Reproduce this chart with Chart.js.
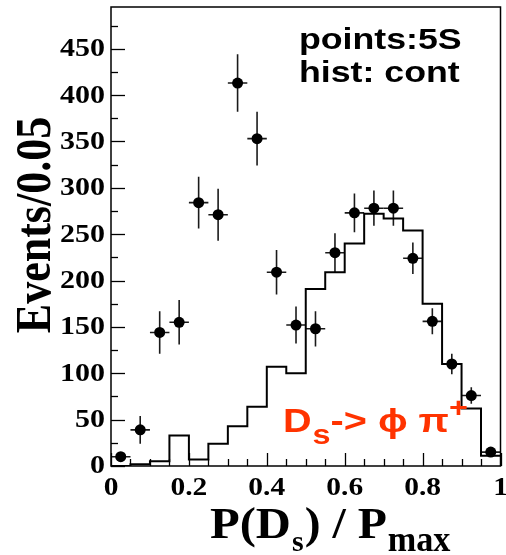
<!DOCTYPE html>
<html>
<head>
<meta charset="utf-8">
<script src="https://cdn.jsdelivr.net/npm/chart.js@4"></script>
<style>
  html, body { margin: 0; padding: 0; background: #fff; }
  canvas { display: block; }
</style>
</head>
<body>
<canvas id="chart" width="506" height="555"></canvas>
<script>
// Данные: точки (5S) с ошибками и гистограмма континуума
const binCenters = [0.025, 0.075, 0.125, 0.175, 0.225, 0.275, 0.325, 0.375, 0.425, 0.475,
                    0.525, 0.575, 0.625, 0.675, 0.725, 0.775, 0.825, 0.875, 0.925, 0.975];
const pointValues = [10, 39, 144, 155, 284, 271, 413, 353, 209, 152,
                     148, 230, 273, 278, 278, 224, 156, 110, 76, 15];
const pointErrors = [4, 15, 23, 24, 28, 28, 31, 29, 24, 20,
                     19, 21, 21, 19, 19, 17, 14, 11, 9, 4];
const halfBin = 0.025;

const binEdges = [0, 0.05, 0.1, 0.15, 0.2, 0.25, 0.3, 0.35, 0.4, 0.45,
                  0.5, 0.55, 0.6, 0.65, 0.7, 0.75, 0.8, 0.85, 0.9, 0.95, 1.0];
const histValues = [0, 2, 5, 33, 7, 24, 43, 64, 107, 100,
                    191, 209, 240, 272, 267, 254, 175, 110, 62, 11];

const yTickLabels = [0, 50, 100, 150, 200, 250, 300, 350, 400, 450];
const xTickLabels = [0, 0.2, 0.4, 0.6, 0.8, 1];
const yMinorStep = 25;
const xMinorStep = 0.05;

const RED = "#ff3300";

// рисуем текст с горизонтальным растяжением (картинка-оригинал растянута)
function stretchText(ctx, text, x, y, font, sx, align) {
  ctx.save();
  ctx.font = font;
  ctx.textAlign = align || "left";
  ctx.translate(x, y);
  ctx.scale(sx, 1);
  ctx.fillText(text, 0, 0);
  ctx.restore();
}

function textWidth(ctx, text, font, sx) {
  ctx.save();
  ctx.font = font;
  const w = ctx.measureText(text).width * sx;
  ctx.restore();
  return w;
}

const decorations = {
  id: "decorations",
  beforeDatasetsDraw(chart) {
    const { ctx, chartArea: a } = chart;
    const xs = chart.scales.x;
    const ys = chart.scales.y;
    ctx.save();
    ctx.beginPath();
    ctx.rect(a.left, a.top, a.right - a.left, a.bottom - a.top);
    ctx.clip();
    ctx.strokeStyle = "#1a1a1a";
    ctx.lineWidth = 1.6;
    binCenters.forEach((c, i) => {
      const px = xs.getPixelForValue(c);
      const py = ys.getPixelForValue(pointValues[i]);
      ctx.beginPath();
      ctx.moveTo(px, ys.getPixelForValue(pointValues[i] - pointErrors[i]));
      ctx.lineTo(px, ys.getPixelForValue(pointValues[i] + pointErrors[i]));
      ctx.moveTo(xs.getPixelForValue(c - halfBin), py);
      ctx.lineTo(xs.getPixelForValue(c + halfBin), py);
      ctx.stroke();
    });
    ctx.restore();
  },
  afterDraw(chart) {
    const { ctx, chartArea: a } = chart;
    const xs = chart.scales.x;
    const ys = chart.scales.y;
    ctx.save();
    ctx.fillStyle = "#000";
    ctx.strokeStyle = "#000";

    // рамка
    ctx.lineWidth = 1.5;
    ctx.strokeRect(a.left, a.top, a.right - a.left, a.bottom - a.top);

    // засечки оси Y (внутрь)
    ctx.lineWidth = 1.3;
    for (let v = 0; v <= ys.max; v += yMinorStep) {
      const py = Math.round(ys.getPixelForValue(v)) + 0.5;
      const len = v % 50 === 0 ? 14 : 7;
      ctx.beginPath();
      ctx.moveTo(a.left, py);
      ctx.lineTo(a.left + len, py);
      ctx.stroke();
    }
    // засечки оси X
    for (let k = 0; k <= 20; k++) {
      const v = k * xMinorStep;
      const px = Math.round(xs.getPixelForValue(v)) + 0.5;
      const len = k % 4 === 0 ? 13 : 7;
      ctx.beginPath();
      ctx.moveTo(px, a.bottom);
      ctx.lineTo(px, a.bottom - len);
      ctx.stroke();
    }

    // подписи делений
    const tickFont = 'bold 25px "Liberation Serif"';
    ctx.textBaseline = "middle";
    yTickLabels.forEach((v) => {
      stretchText(ctx, String(v), 105, ys.getPixelForValue(v) + 1, tickFont, 1.2, "right");
    });
    ctx.textBaseline = "alphabetic";
    xTickLabels.forEach((v) => {
      stretchText(ctx, String(v), xs.getPixelForValue(v), 495, tickFont, 1.18, "center");
    });

    // заголовок оси Y
    ctx.save();
    ctx.translate(50, 225);
    ctx.rotate(-Math.PI / 2);
    ctx.scale(1, 1.15);
    ctx.font = 'bold 44px "Liberation Serif"';
    ctx.textAlign = "center";
    ctx.fillText("Events/0.05", 0, 0);
    ctx.restore();

    // заголовок оси X: P(D_s) / P_max
    const tf = 'bold 45px "Liberation Serif"';
    const sf = 'bold 36px "Liberation Serif"';
    let x = 210;
    stretchText(ctx, "P(D", x, 538, tf, 1.08);
    x += textWidth(ctx, "P(D", tf, 1.08);
    stretchText(ctx, "s", x + 1, 551, 'bold 30px "Liberation Serif"', 1.0);
    x += textWidth(ctx, "s", 'bold 30px "Liberation Serif"', 1.0) + 2;
    stretchText(ctx, ") / P", x, 538, tf, 1.06);
    x += textWidth(ctx, ") / P", tf, 1.06);
    stretchText(ctx, "max", x + 1, 551, sf, 0.95);

    // надписи в углу
    const lf = 'bold 30px "Liberation Sans"';
    stretchText(ctx, "points:5S", 299, 49, lf, 1.19);
    stretchText(ctx, "hist: cont", 299, 82, lf, 1.19);

    // красная подпись D_s -> phi pi+
    ctx.fillStyle = RED;
    const rf = 'bold 33px "Liberation Sans"';
    const rs = 'bold 27px "Liberation Sans"';
    let rx = 283;
    stretchText(ctx, "D", rx, 432, rf, 1.2);
    rx += textWidth(ctx, "D", rf, 1.2) + 1;
    stretchText(ctx, "s", rx, 444, rs, 1.2);
    rx += textWidth(ctx, "s", rs, 1.2);
    stretchText(ctx, "-> ϕ π", rx, 432, rf, 1.2);
    rx += textWidth(ctx, "-> ϕ π", rf, 1.2);
    stretchText(ctx, "+", rx, 417, rs, 1.2);

    ctx.restore();
  },
};

new Chart(document.getElementById("chart"), {
  type: "scatter",
  data: {
    datasets: [
      {
        type: "line",
        label: "cont",
        data: binEdges.map((e, i) => ({ x: e, y: histValues[Math.min(i, histValues.length - 1)] })),
        stepped: "before",
        borderColor: "#000",
        borderWidth: 2,
        pointRadius: 0,
        fill: false,
      },
      {
        label: "5S",
        data: binCenters.map((c, i) => ({ x: c, y: pointValues[i] })),
        pointRadius: 5.5,
        pointBackgroundColor: "#000",
        pointBorderWidth: 0,
        borderColor: "#000",
      },
    ],
  },
  options: {
    responsive: false,
    devicePixelRatio: 1,
    animation: false,
    layout: {
      padding: { left: 111, top: 7, right: 3, bottom: 89 },
    },
    plugins: {
      legend: { display: false },
      tooltip: { enabled: false },
    },
    scales: {
      x: { type: "linear", min: 0, max: 1, display: false },
      y: { type: "linear", min: 0, max: 495, display: false },
    },
  },
  plugins: [decorations],
});
</script>
</body>
</html>
